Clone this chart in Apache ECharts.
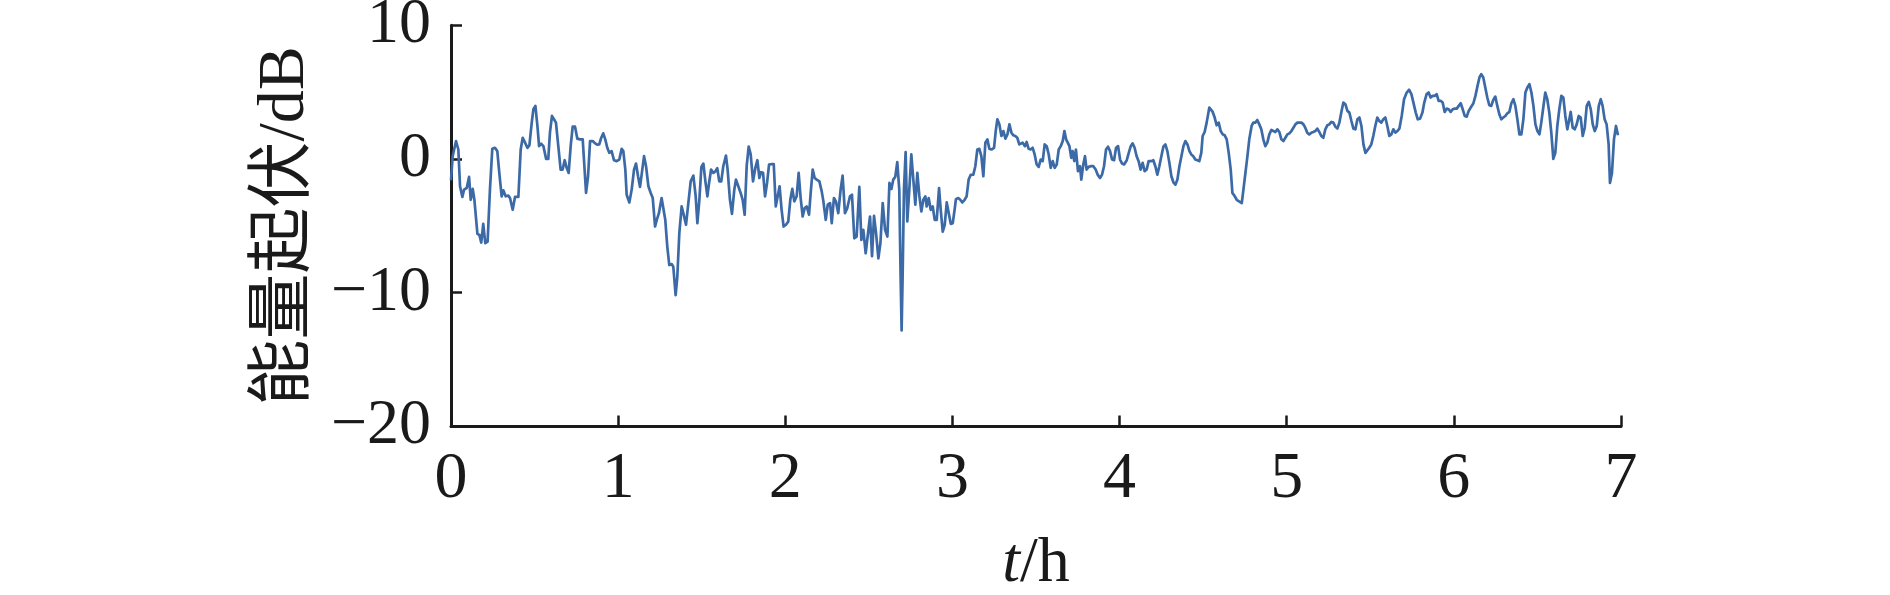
<!DOCTYPE html>
<html>
<head>
<meta charset="utf-8">
<script src="https://cdn.jsdelivr.net/npm/echarts@6/dist/echarts.min.js"></script>
<style>
html,body{margin:0;padding:0;background:#fff;}
#chart{width:1890px;height:595px;}
</style>
</head>
<body>
<div id="chart"></div>
<script>
// time (h)
var timeH = [0.000,0.010,0.030,0.044,0.054,0.068,0.078,0.094,0.108,0.118,0.130,0.140,0.158,0.170,0.181,0.193,0.205,0.219,0.233,0.247,0.263,0.277,0.289,0.303,0.313,0.327,0.343,0.353,0.369,0.383,0.403,0.417,0.429,0.443,0.457,0.469,0.483,0.493,0.505,0.517,0.527,0.539,0.553,0.569,0.582,0.592,0.604,0.616,0.628,0.642,0.656,0.668,0.680,0.692,0.704,0.716,0.728,0.742,0.756,0.772,0.788,0.798,0.808,0.820,0.832,0.848,0.862,0.875,0.887,0.899,0.911,0.923,0.935,0.947,0.961,0.975,0.991,1.007,1.021,1.031,1.043,1.051,1.067,1.081,1.095,1.107,1.119,1.131,
1.141,1.155,1.167,1.181,1.195,1.207,1.221,1.231,1.244,1.260,1.270,1.282,1.294,1.306,1.320,1.330,1.344,1.354,1.366,1.380,1.390,1.406,1.420,1.434,1.450,1.464,1.474,1.486,1.498,1.510,1.522,1.534,1.544,1.556,1.570,1.582,1.593,1.605,1.617,1.629,1.645,1.655,1.669,1.681,1.695,1.705,1.719,1.733,1.745,1.757,1.769,1.781,1.793,1.807,1.821,1.833,1.845,1.855,1.867,1.879,1.891,1.903,1.919,1.931,1.943,1.954,1.966,1.978,1.990,2.004,2.018,2.030,2.042,2.054,2.068,2.080,2.092,2.104,2.116,2.128,2.142,2.152,2.164,2.176,2.188,2.204,2.218,2.228,2.242,2.254,2.268,
2.278,2.291,2.303,2.317,2.331,2.343,2.357,2.371,2.387,2.399,2.413,2.427,2.443,2.455,2.467,2.481,2.495,2.507,2.519,2.531,2.543,2.557,2.569,2.583,2.597,2.611,2.623,2.635,2.646,2.658,2.670,2.682,2.690,2.696,2.702,2.710,2.720,2.730,2.742,2.754,2.766,2.778,2.790,2.802,2.814,2.826,2.838,2.846,2.858,2.870,2.882,2.894,2.906,2.920,2.930,2.942,2.954,2.966,2.978,2.990,3.002,3.013,3.021,3.035,3.047,3.059,3.073,3.085,3.097,3.109,3.125,3.137,3.149,3.161,3.173,3.185,3.197,3.209,3.221,3.233,3.249,3.259,3.269,3.281,3.293,3.305,3.317,3.329,3.341,3.353,3.364,3.376,3.388,3.400,
3.420,3.434,3.444,3.456,3.468,3.480,3.492,3.504,3.516,3.528,3.540,3.552,3.564,3.576,3.588,3.600,3.612,3.624,3.636,3.648,3.660,3.670,3.680,3.690,3.700,3.711,3.719,3.729,3.739,3.751,3.763,3.771,3.783,3.793,3.803,3.815,3.827,3.843,3.857,3.869,3.883,3.895,3.907,3.919,3.931,3.943,3.955,3.967,3.979,3.991,4.003,4.015,4.027,4.043,4.055,4.067,4.078,4.090,4.102,4.114,4.126,4.138,4.150,4.162,4.174,4.190,4.202,4.214,4.226,4.238,4.250,4.262,4.274,4.286,4.298,4.310,4.322,4.334,4.346,4.358,4.370,4.382,4.394,4.406,4.418,4.429,4.441,4.453,4.465,4.477,4.489,4.497,4.509,4.521,4.537,
4.557,4.569,4.581,4.593,4.605,4.617,4.629,4.641,4.653,4.665,4.675,4.687,4.701,4.715,4.731,4.741,4.753,4.765,4.776,4.790,4.800,4.812,4.824,4.836,4.848,4.860,4.872,4.884,4.896,4.908,4.920,4.932,4.944,4.956,4.968,4.980,4.992,5.004,5.016,5.028,5.040,5.052,5.064,5.076,5.088,5.100,5.111,5.123,5.135,5.147,5.159,5.171,5.183,5.195,5.207,5.219,5.231,5.243,5.255,5.267,5.279,5.291,5.303,5.315,5.327,5.339,5.351,5.363,5.375,5.387,5.399,5.411,5.423,5.435,5.447,5.459,5.471,5.482,5.494,5.506,5.518,5.530,5.542,5.554,5.566,5.578,5.590,5.602,5.614,5.626,5.638,5.650,5.662,5.674,
5.688,5.702,5.718,5.732,5.746,5.758,5.772,5.784,5.798,5.812,5.823,5.837,5.849,5.861,5.873,5.885,5.897,5.909,5.921,5.933,5.945,5.957,5.969,5.981,5.993,6.005,6.017,6.029,6.041,6.053,6.065,6.077,6.089,6.101,6.117,6.129,6.141,6.153,6.164,6.176,6.188,6.200,6.212,6.224,6.236,6.248,6.260,6.272,6.284,6.296,6.308,6.320,6.332,6.344,6.356,6.368,6.380,6.392,6.404,6.416,6.428,6.440,6.452,6.464,6.476,6.488,6.500,6.512,6.523,6.535,6.547,6.559,6.571,6.583,6.595,6.607,6.619,6.631,6.643,6.655,6.667,6.679,6.691,6.699,6.711,6.723,6.735,6.747,6.759,6.771,6.783,6.795,6.807,6.819,6.831,6.843,6.855,6.867,6.879,6.890,6.902,6.914,6.926,6.934,6.946,6.958,6.970,6.982];

// energy fluctuation (dB)
var levelDb = [-1.6,0.2,1.34,0.71,-2.04,-2.84,-2.29,-2.17,-1.34,-3.05,-2.24,-3.05,-5.60,-5.68,-6.25,-4.85,-6.30,-6.18,-2.29,0.76,0.84,0.59,-1.04,-2.79,-2.34,-2.79,-2.74,-2.92,-3.80,-2.84,-2.84,0.71,1.59,1.22,0.84,1.02,2.72,3.72,3.97,2.47,0.96,1.14,0.96,0.01,0.01,1.97,3.22,2.97,2.72,0.96,-0.79,-0.79,-0.09,-0.66,-1.04,0.96,2.42,2.42,1.52,1.47,1.47,-0.54,-2.54,-1.29,1.34,1.34,1.17,1.07,1.09,1.59,1.92,1.47,0.84,0.46,0.59,-0.09,-0.16,-0.04,0.76,0.59,-0.79,-2.67,-3.25,-2.29,-0.79,-0.34,-1.29,-2.09,
-2.17,0.21,-0.54,-2.04,-2.54,-2.92,-5.05,-4.55,-4.05,-2.92,-3.05,-4.55,-6.55,-7.93,-7.86,-8.06,-10.19,-8.81,-5.55,-3.55,-4.05,-4.92,-3.30,-1.67,-1.24,-2.79,-4.80,-3.05,-0.59,-0.34,-1.67,-2.79,-1.79,-0.79,-1.04,-0.91,-0.69,-1.67,-1.67,-0.54,0.26,-0.79,-3.05,-4.10,-2.29,-1.54,-2.04,-2.54,-3.05,-4.17,-0.54,0.92,0.34,-1.67,-0.66,-0.09,-1.42,-0.99,-1.04,-2.79,-1.79,-0.41,-0.39,-0.39,-3.55,-3.55,-2.04,-3.80,-5.05,-4.92,-4.67,-3.05,-2.24,-3.17,-2.79,-1.04,-2.92,-4.30,-3.67,-3.55,-4.17,-2.54,-0.79,-1.42,-1.54,-1.67,-2.42,-3.17,-4.55,-3.42,-3.30,
-4.80,-2.92,-3.17,-4.05,-2.29,-1.24,-4.05,-3.67,-2.79,-2.67,-5.93,-5.80,-2.09,-6.05,-5.30,-7.05,-5.55,-4.30,-7.26,-4.25,-5.55,-7.43,-6.30,-3.30,-5.30,-5.80,-1.79,-2.24,-1.54,-1.34,-0.24,-2.29,-8.81,-12.82,-8.81,-2.29,0.51,-4.67,-2.29,0.34,-1.54,-3.42,-1.04,-2.74,-3.92,-3.05,-2.79,-3.55,-2.92,-3.80,-3.55,-4.55,-4.55,-2.17,-3.80,-5.43,-4.92,-3.25,-4.05,-4.85,-4.80,-3.80,-3.00,-2.92,-3.05,-3.25,-3.05,-2.79,-1.54,-1.19,-1.17,-0.54,0.71,0.76,0.21,-1.29,1.22,1.47,0.76,0.71,0.84,2.09,2.97,2.59,1.72,2.09,1.52,1.84,2.59,1.97,1.77,1.72,1.59,1.09,
1.22,0.96,1.27,0.76,0.71,0.84,0.34,-0.41,-0.59,-0.04,-0.16,1.09,0.96,0.34,-0.66,-0.16,-0.66,-0.41,0.71,0.96,1.34,2.09,1.47,1.22,0.96,0.09,0.59,-0.16,0.71,-0.91,-0.54,-1.54,-0.41,0.21,-0.79,-0.59,-0.54,-0.54,-0.79,-1.17,-1.42,-1.17,-0.54,0.71,0.92,0.59,-0.04,-0.09,0.84,0.96,-0.04,-0.34,-0.41,-0.09,0.46,0.96,1.17,0.84,0.21,-0.16,-0.79,-0.29,-0.91,-0.79,-0.16,-0.16,-0.09,-0.54,-1.17,-0.54,0.21,0.92,1.09,0.59,-0.29,-1.29,-1.74,-1.92,-1.54,-0.54,0.21,0.96,1.34,1.09,0.59,0.34,0.21,-0.04,-0.09,-0.16,0.46,1.72,2.02,2.72,3.85,
3.52,3.10,2.52,2.72,2.09,1.84,1.77,1.47,0.46,-0.79,-2.54,-2.74,-3.05,-3.17,-3.30,-2.29,-1.04,0.21,1.47,2.47,2.72,2.72,2.92,2.59,2.22,1.47,0.96,1.22,1.84,2.17,2.09,2.02,2.22,2.02,1.47,1.34,1.59,1.84,1.92,2.09,2.34,2.59,2.72,2.72,2.72,2.59,2.34,1.97,1.84,1.97,2.02,2.09,2.27,2.02,1.72,1.59,2.22,2.52,2.59,2.77,2.72,2.42,2.27,2.72,3.52,4.22,4.10,3.60,3.47,2.84,2.27,2.22,2.97,3.10,2.47,1.09,0.46,0.34,0.84,1.09,1.72,2.47,3.10,2.84,2.72,2.97,3.10,2.47,1.72,1.84,2.22,1.97,2.09,2.27,
3.22,4.47,4.97,5.18,4.85,4.22,3.47,2.97,3.02,3.47,4.22,4.85,4.97,4.60,4.72,4.72,4.85,4.35,4.35,4.22,3.52,3.77,3.72,3.52,3.72,3.77,3.77,3.97,4.17,3.72,3.22,3.17,3.60,3.85,4.17,4.72,5.43,6.10,6.35,6.10,5.35,4.60,4.02,3.97,4.42,4.67,3.97,3.35,2.97,3.10,3.22,3.42,3.52,4.17,4.47,3.97,2.97,1.84,1.84,2.97,4.97,5.35,5.60,4.97,3.97,2.59,2.09,1.84,2.72,3.85,4.97,4.47,3.47,1.97,0.01,0.46,2.47,3.72,4.72,4.60,3.22,2.22,2.97,3.52,2.34,2.22,2.59,3.22,3.10,1.72,2.34,3.97,4.27,3.72,2.59,2.09,2.47,3.97,4.47,3.97,2.97,2.59,1.09,-1.79,-1.04,1.47,2.47,1.77];

var xTicks = [0, 1, 2, 3, 4, 5, 6, 7];
var yTicks = [-20, -10, 0, 10];
var xAxisTitle = '{it|t}/h';
var yAxisTitle = '能量起伏/dB';

var seriesData = timeH.map(function (t, i) { return [t, levelDb[i]]; });

var FONT = "'Liberation Serif', 'Times New Roman', 'Noto Sans CJK SC', serif";
var INK = '#1a1a1a';

var chart = echarts.init(document.getElementById('chart'), null, {renderer: 'canvas'});
chart.setOption({
  backgroundColor: '#ffffff',
  animation: false,
  grid: {
    left: 451, right: 269, top: 25.3, bottom: 168.6,
    containLabel: false,
    outerBoundsMode: 'none'
  },
  xAxis: {
    type: 'value',
    min: xTicks[0],
    max: xTicks[xTicks.length - 1],
    interval: 1,
    name: xAxisTitle,
    nameLocation: 'middle',
    nameGap: 106,
    nameTextStyle: {
      fontFamily: FONT, fontSize: 64, color: INK,
      rich: { it: { fontFamily: FONT, fontSize: 64, fontStyle: 'italic', color: INK } }
    },
    axisLine: { show: true, onZero: false, lineStyle: { color: INK, width: 3 } },
    axisTick: { show: true, inside: true, length: 11, lineStyle: { color: INK, width: 2.5 } },
    axisLabel: {
      margin: 20, fontFamily: FONT, fontSize: 66, color: INK,
      formatter: function (v) { return String(v); }
    },
    splitLine: { show: false }
  },
  yAxis: {
    type: 'value',
    min: yTicks[0],
    max: yTicks[yTicks.length - 1],
    interval: 10,
    name: yAxisTitle,
    nameLocation: 'middle',
    nameGap: 132,
    nameRotate: 90,
    nameTextStyle: { fontFamily: FONT, fontSize: 66, color: INK },
    axisLine: { show: true, onZero: false, lineStyle: { color: INK, width: 3 } },
    axisTick: { show: true, inside: true, length: 11, lineStyle: { color: INK, width: 2.5 } },
    axisLabel: {
      margin: 20, fontFamily: FONT, fontSize: 64, color: INK,
      formatter: function (v) { return v < 0 ? '\u2212' + Math.abs(v) : String(v); }
    },
    splitLine: { show: false }
  },
  series: [{
    type: 'line',
    data: seriesData,
    showSymbol: false,
    symbol: 'none',
    smooth: false,
    lineStyle: { color: '#3c6aa6', width: 2.7, join: 'round' },
    clip: false
  }]
});
</script>
</body>
</html>
